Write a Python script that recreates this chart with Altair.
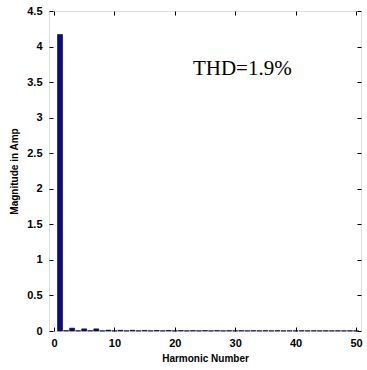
import altair as alt
import pandas as pd

# Harmonic spectrum of the current
harmonics = list(range(1, 51))
magnitudes = [4.17, 0.005, 0.04, 0.004, 0.03, 0.004, 0.03, 0.003, 0.012, 0.003,
              0.01, 0.003, 0.01, 0.003, 0.008, 0.003, 0.008, 0.003, 0.007, 0.003,
              0.007, 0.003, 0.006, 0.003, 0.006, 0.003, 0.006, 0.003, 0.005, 0.003,
              0.005, 0.003, 0.005, 0.003, 0.005, 0.003, 0.005, 0.003, 0.004, 0.003,
              0.004, 0.003, 0.004, 0.003, 0.004, 0.003, 0.004, 0.003, 0.004, 0.003]
x_ticks = [0, 10, 20, 30, 40, 50]
y_ticks = [0, 0.5, 1, 1.5, 2, 2.5, 3, 3.5, 4, 4.5]
thd_label = "THD=1.9%"

df = pd.DataFrame({"h": harmonics, "mag": magnitudes})

xs = alt.Scale(domain=[0, 50], nice=False, zero=False)
ys = alt.Scale(domain=[0, 4.5], nice=False)

lab = dict(labelFont="Liberation Sans", labelFontWeight="bold", labelFontSize=11,
           labelColor="black", titleFont="Liberation Sans", titleFontWeight="bold",
           titleFontSize=10, titleColor="black", domain=False, grid=False,
           tickColor="black", tickSize=4, offset=-4)

bars = alt.Chart(df).mark_bar(size=5, color="#0c0c85", stroke="#000033",
                              strokeWidth=0.6).encode(
    x=alt.X("h:Q", scale=xs,
            axis=alt.Axis(values=x_ticks, title="Harmonic Number", labelPadding=6,
                          titlePadding=5, labelFlush=False, **lab)),
    y=alt.Y("mag:Q", scale=ys,
            axis=alt.Axis(values=y_ticks, title="Magnitude in Amp", labelPadding=7,
                          titlePadding=7, format="~g", labelFlush=False, **lab)),
)

# Mirrored ticks on the top and right edges of the box
frame = alt.Chart(df).mark_point(opacity=0).encode(
    x=alt.X("h:Q", scale=xs,
            axis=alt.Axis(orient="top", values=x_ticks, labels=False, title="",
                          domain=False, grid=False, tickColor="black", tickSize=4,
                          offset=-4)),
    y=alt.Y("mag:Q", scale=ys,
            axis=alt.Axis(orient="right", values=y_ticks, labels=False, title="",
                          domain=False, grid=False, tickColor="black", tickSize=4,
                          offset=-4)),
)

note = alt.Chart(pd.DataFrame({"x": [23.0], "y": [3.68], "t": [thd_label]})).mark_text(
    align="left", baseline="middle", font="Liberation Serif", fontSize=21,
    color="black").encode(x=alt.X("x:Q", scale=xs, axis=None),
                          y=alt.Y("y:Q", scale=ys, axis=None),
                          text="t:N")

chart = alt.layer(bars, frame, note).resolve_axis(
    x="independent", y="independent"
).properties(
    width=312, height=320,
    autosize=alt.AutoSizeParams(type="none"),
    padding={"left": 49, "top": 11, "right": 6, "bottom": 39},
).configure_view(stroke="black", strokeWidth=1.2).configure(background="white")

chart.save("out.html", embed_options={"renderer": "svg", "actions": False})
